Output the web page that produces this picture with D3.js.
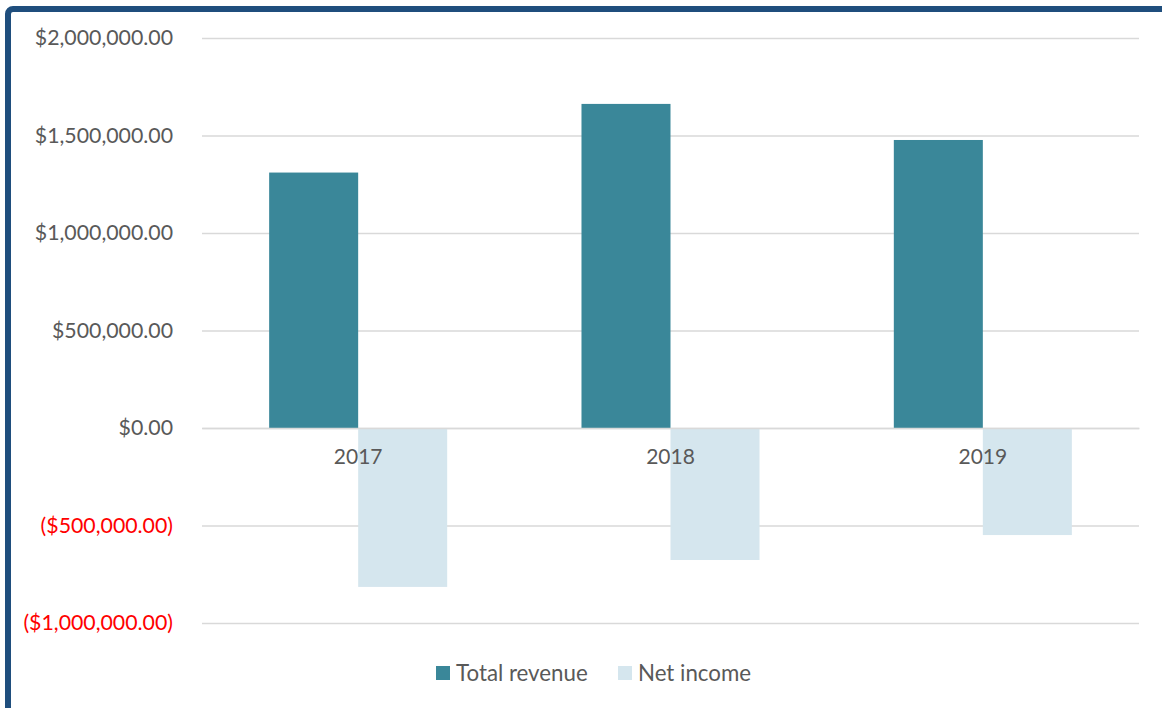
<!DOCTYPE html>
<html>
<head>
<meta charset="utf-8">
<script src="https://cdn.jsdelivr.net/npm/d3@7"></script>
<style>
  html, body { margin: 0; padding: 0; background: #fff; }
  svg { display: block; }
  text { font-family: Lato, "Open Sans", sans-serif; }
</style>
</head>
<body>
<svg id="chart" width="1162" height="708"></svg>
<script>
// Yearly figures
const years = ["2017", "2018", "2019"];
const totalRevenue = [1310000, 1662000, 1477000];
const netIncome = [-815000, -677000, -549000];
const seriesNames = ["Total revenue", "Net income"];
const seriesColors = ["#3A8799", "#D5E6EE"];
const yTicks = [2000000, 1500000, 1000000, 500000, 0, -500000, -1000000];

const svg = d3.select("#chart");
const W = 1162, H = 708;
const plot = { left: 202, right: 1139, top: 38, bottom: 623 };

// Frame around the chart area
svg.append("rect")
  .attr("x", 8).attr("y", 9)
  .attr("width", W + 20).attr("height", H + 20)
  .attr("rx", 5)
  .attr("fill", "none")
  .attr("stroke", "#1F4E7D")
  .attr("stroke-width", 6);

const y = d3.scaleLinear().domain([-1000000, 2000000]).range([plot.bottom, plot.top]);
const x0 = d3.scaleBand().domain(years).range([plot.left, plot.right]).paddingInner(0).paddingOuter(0);
const groupW = x0.bandwidth() * 0.57;
const x1 = d3.scaleBand().domain(seriesNames).range([0, groupW]).padding(0);

const money = v => {
  const s = "$" + d3.format(",.2f")(Math.abs(v));
  return v < 0 ? "(" + s + ")" : s;
};

// Gridlines and value labels
const yAxis = d3.axisLeft(y).tickValues(yTicks).tickFormat(money)
  .tickSize(-(plot.right - plot.left)).tickPadding(29);
const gy = svg.append("g").attr("transform", `translate(${plot.left},0)`).call(yAxis);
gy.select(".domain").remove();
gy.selectAll(".tick line").attr("stroke", "#D9D9D9").attr("stroke-width", 1.5);
gy.selectAll(".tick text")
  .attr("font-size", 21.3)
  .attr("fill", d => d < 0 ? "#FF0000" : "#595959");

// Bars
const rows = years.map((yr, i) => ({ year: yr, values: [totalRevenue[i], netIncome[i]] }));
const groups = svg.append("g").selectAll("g").data(rows).join("g")
  .attr("transform", d => `translate(${x0(d.year) + (x0.bandwidth() - groupW) / 2},0)`);
groups.selectAll("rect")
  .data(d => d.values.map((v, k) => ({ v, k })))
  .join("rect")
  .attr("x", d => x1(seriesNames[d.k]))
  .attr("width", x1.bandwidth())
  .attr("y", d => y(Math.max(0, d.v)))
  .attr("height", d => Math.abs(y(d.v) - y(0)))
  .attr("fill", d => seriesColors[d.k]);

// Category labels sit just under the zero line
const xAxis = d3.axisBottom(x0).tickSize(0).tickPadding(21);
const gx = svg.append("g").attr("transform", `translate(0,${y(0)})`).call(xAxis);
gx.select(".domain").attr("stroke", "#D9D9D9").attr("stroke-width", 1.5);
gx.selectAll(".tick text").attr("font-size", 21).attr("fill", "#595959");

// Legend
const legend = svg.append("g").attr("transform", "translate(436,666)");
const legendX = [0, 182];
seriesNames.forEach((name, k) => {
  const g = legend.append("g").attr("transform", `translate(${legendX[k]},0)`);
  g.append("rect").attr("width", 14).attr("height", 14).attr("fill", seriesColors[k]);
  g.append("text").attr("x", 20).attr("y", 7).attr("dy", "0.35em")
    .attr("font-size", 22.3).attr("fill", "#595959").text(name);
});
</script>
</body>
</html>
